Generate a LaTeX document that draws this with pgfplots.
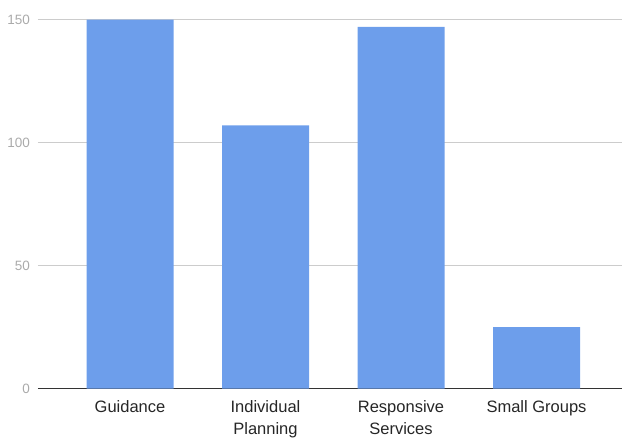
\documentclass[border=0pt]{standalone}
\usepackage{fontspec}
\setmainfont{Liberation Sans}
\usepackage{pgfplots}
\pgfplotsset{compat=1.18}
\definecolor{barblue}{HTML}{6D9EEB}
\definecolor{gridgray}{HTML}{CCCCCC}
\definecolor{ticklab}{HTML}{AAAAAA}
\definecolor{axisdark}{HTML}{333333}
\begin{document}
\begin{tikzpicture}
\begin{axis}[
  at={(0,0)}, anchor=south west,
  scale only axis, width=584pt, height=369pt,
  xmin=-0.679, xmax=3.631, ymin=0, ymax=150,
  axis lines*=left,
  y axis line style={draw=none},
  x axis line style={draw=axisdark, line width=1pt},
  ymajorgrids, grid style={gridgray, line width=0.9pt},
  major tick length=0pt,
  xtick={0,1,2,3},
  xticklabels={Guidance,{Individual\\Planning},{Responsive\\Services},Small Groups},
  xticklabel style={align=center, font=\fontsize{16.5}{21.5}\selectfont, text=black!85, yshift=-9pt},
  ytick={0,50,100,150},
  yticklabel style={font=\fontsize{13.5}{15}\selectfont, text=ticklab, xshift=-4.5pt},
  /pgf/number format/assume math mode=true,
  clip=false,
]
\addplot[ybar, bar width=87pt, fill=barblue, draw=none] coordinates {(0,150) (1,107) (2,147) (3,25)};
\end{axis}
\pgfresetboundingbox
\path[use as bounding box] (-38pt,-49pt) rectangle (584pt,388.5pt);
\end{tikzpicture}
\end{document}
